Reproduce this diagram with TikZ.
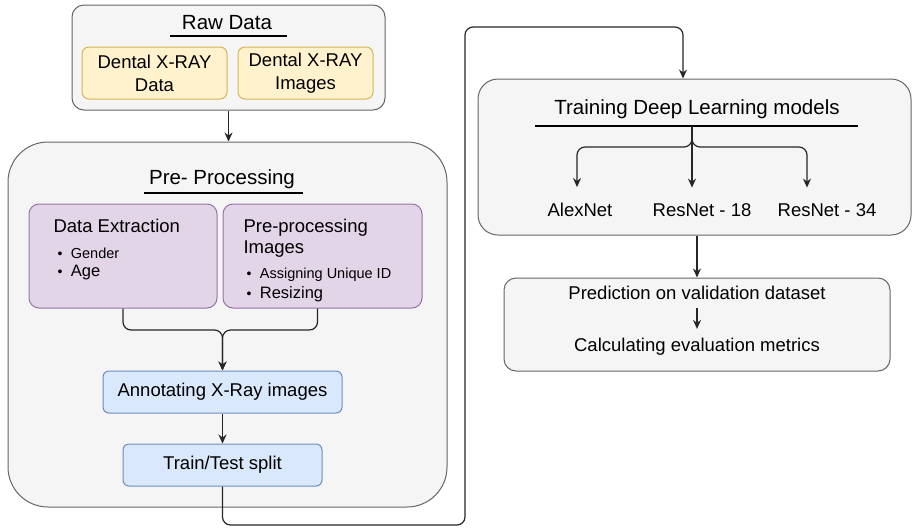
\documentclass[tikz,border=0pt]{standalone}
\usepackage{fontspec}
\setmainfont{Liberation Sans}
\usepackage{xcolor}
\usepackage{tikz}
\usetikzlibrary{arrows.meta, positioning, calc}

\definecolor{boxgray}{HTML}{F5F5F5}
\definecolor{edgegray}{HTML}{666666}
\definecolor{yfill}{HTML}{FFF2CC}
\definecolor{yedge}{HTML}{D6B656}
\definecolor{pfill}{HTML}{E1D5E7}
\definecolor{pedge}{HTML}{9673A6}
\definecolor{bfill}{HTML}{DAE8FC}
\definecolor{bedge}{HTML}{6C8EBF}
\newcommand{\bul}{{\fontsize{14}{14}\selectfont\textbullet}\hspace{8.5pt}}

\begin{document}
\begin{tikzpicture}[x=1pt, y=-1pt, >={Stealth[length=9pt, width=8pt]}, line width=1pt,
    container/.style={draw=edgegray, fill=boxgray, rounded corners=12pt},
    yellowbox/.style={draw=yedge, fill=yfill, rounded corners=7pt, align=center, font=\fontsize{18.5}{23}\selectfont},
    purplebox/.style={draw=pedge, fill=pfill, rounded corners=10pt},
    bluebox/.style={draw=bedge, fill=bfill, rounded corners=6pt, font=\fontsize{18.5}{22}\selectfont},
    title/.style={font=\fontsize{20.5}{24}\selectfont, inner sep=0pt},
    txt/.style={font=\fontsize{18.5}{22}\selectfont, inner sep=0pt},
    smalltxt/.style={font=\fontsize{14.5}{17}\selectfont, inner sep=0pt, anchor=base west},
    midtxt/.style={font=\fontsize{16.5}{19}\selectfont, inner sep=0pt, anchor=base west},
    uline/.style={line width=2pt},
    arr/.style={->, draw=black!85, line width=1.2pt}]
        \useasboundingbox (0,0) rectangle (913,528);

        % Raw data
        \node[container, minimum width=313pt, minimum height=105pt] (raw) at (228.5,57.5) {};
        \node[title] (rawt) at (227,23) {Raw Data};
        \draw[uline] (170,36) -- (287,36);
        \node[yellowbox, minimum width=145pt, minimum height=52pt] (xdata) at (154.5,73) {Dental X-RAY\\Data};
        \node[yellowbox, minimum width=135pt, minimum height=52pt] (ximg) at (305.5,73) {Dental X-RAY\\Images};

        % Pre-processing block
        \node[container, rounded corners=40pt, minimum width=439pt, minimum height=365pt] (pre) at (227.5,324.5) {};
        \draw[arr] (raw.south) -- (raw.south |- pre.north);
        \node[title] (pret) at (222,179) {Pre- Processing};
        \draw[uline] (144,193) -- (303,193);

        \node[purplebox, minimum width=188pt, minimum height=104pt] (dex) at (123,256) {};
        \node[txt, anchor=base west] (dext) at (53,232) {Data Extraction};
        \node[smalltxt] (gender) at (57,258) {\bul Gender};
        \node[midtxt] (age) at (57,276) {\bul Age};

        \node[purplebox, minimum width=199pt, minimum height=104pt] (ppi) at (322.5,256) {};
        \node[txt, anchor=base west] (ppit) at (243,232) {Pre-processing};
        \node[txt, anchor=base west] (ppit2) at (243,253) {Images};
        \node[smalltxt] (uid) at (246,278) {\bul Assigning Unique ID};
        \node[midtxt] (resize) at (246,298) {\bul Resizing};

        \node[bluebox, minimum width=239pt, minimum height=42pt] (annot) at (222.5,392) {Annotating X-Ray images};
        \node[bluebox, minimum width=199pt, minimum height=42pt] (split) at (222.5,465) {Train/Test split};

        \coordinate (merge) at (222.5,330);
        \draw[arr, rounded corners=8pt] (dex.south) |- (merge) -- (annot.north);
        \draw[arr, rounded corners=8pt] ([xshift=-5pt]ppi.south) |- (merge) -- (annot.north);
        \draw[arr] (annot.south) -- (split.north);

        % Training block
        \node[container, rounded corners=20pt, minimum width=433pt, minimum height=156pt] (trn) at (694.5,157) {};
        \node[title] (trnt) at (697,109) {Training Deep Learning models};
        \draw[uline] (535,126) -- (858,126);
        \coordinate (fork) at (692,126);
        \node[txt, anchor=base] (alex) at (580,216) {AlexNet};
        \node[txt, anchor=base] (res18) at (702,216) {ResNet - 18};
        \node[txt, anchor=base] (res34) at (827,216) {ResNet - 34};
        \draw[arr, rounded corners=8pt, shorten >=15pt] (fork) -- ++(0,21) -| ([xshift=-3pt]alex.north);
        \draw[arr, shorten >=15pt] (fork) -- (fork |- res18.north);
        \draw[arr, rounded corners=8pt, shorten >=15pt] (fork) -- ++(0,21) -| ([xshift=-20pt]res34.north);

        % Link from split to training
        \coordinate (low) at (465,525);
        \coordinate (high) at (465,27);
        \draw[arr, rounded corners=8pt] (split.south) |- (low) -- (high) -| ([xshift=-11.5pt]trn.north);

        % Prediction block
        \node[container, minimum width=386pt, minimum height=93pt] (predbox) at (697,324.5) {};
        \draw[arr] (predbox.north |- trn.south) -- (predbox.north);
        \node[txt] (pred) at (697,293) {Prediction on validation dataset};
        \node[txt] (calc) at (697,347) {Calculating evaluation metrics};
        \draw[arr, shorten <=8pt, shorten >=9pt] (pred) -- (calc);
    \end{tikzpicture}
\end{document}
